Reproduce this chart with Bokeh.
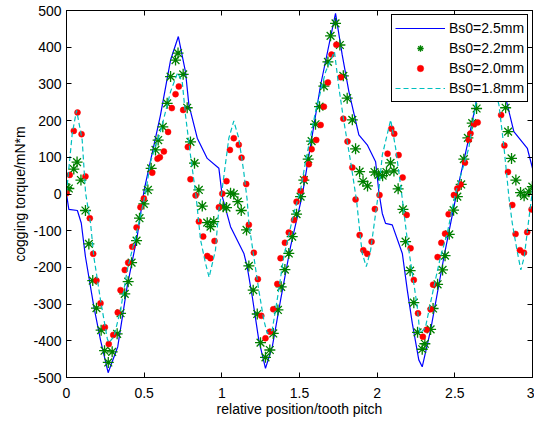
from bokeh.plotting import figure
from bokeh.models import LinearAxis, FixedTicker, Range1d
from bokeh.embed import file_html
from bokeh.resources import INLINE

# ---- data ----
x_ticks = [0, 0.5, 1, 1.5, 2, 2.5, 3]
x_tick_labels = ["0", "0.5", "1", "1.5", "2", "2.5", "3"]
y_ticks = [-500, -400, -300, -200, -100, 0, 100, 200, 300, 400, 500]
y_tick_labels = ["-500", "-400", "-300", "-200", "-100", "0", "100", "200", "300", "400", "500"]

series_names = ["Bs0=2.5mm", "Bs0=2.2mm", "Bs0=2.0mm", "Bs0=1.8mm"]

# Bs0=2.5mm (solid blue line)
b25_x = [0.0, 0.015, 0.07, 0.095, 0.122, 0.176, 0.219, 0.268, 0.33, 0.39, 0.455, 0.5, 0.605, 0.67, 0.72,
         0.766, 0.788, 0.842, 0.906, 0.981, 1.003, 1.056, 1.142, 1.163, 1.196, 1.238, 1.281, 1.325,
         1.378, 1.442, 1.518, 1.636, 1.732, 1.775, 1.818, 1.882, 1.936, 1.99, 2.011, 2.033, 2.054,
         2.097, 2.162, 2.194, 2.226, 2.268, 2.29, 2.344, 2.43, 2.516, 2.59, 2.634, 2.72, 2.838, 2.88,
         2.967, 3.0]
b25_y = [0, -42, -45, -79, -171, -307, -398, -487, -416, -253, -116, 11, 215, 365, 429,
         333, 243, 152, 97, 70, -7, -89, -162, -198, -280, -398, -475, -416,
         -289, -144, -3, 297, 492, 379, 279, 161, 134, 88, 6, -53, -80,
         -84, -162, -262, -352, -452, -471, -371, -171, 11, 152, 243, 460, 243, 170,
         124, 70]

# Bs0=2.2mm (green asterisks)
b22_x = [0.0, 0.015, 0.047, 0.068, 0.093, 0.122, 0.144, 0.169, 0.193, 0.223, 0.245, 0.269, 0.294,
         0.326, 0.348, 0.375, 0.397, 0.419, 0.451, 0.47, 0.498, 0.524, 0.545, 0.573, 0.59, 0.62,
         0.648, 0.67, 0.702, 0.718, 0.751, 0.777, 0.798, 0.824, 0.852, 0.874, 0.906, 0.927, 0.948,
         1.009, 1.03, 1.056, 1.077, 1.103, 1.125, 1.159, 1.174, 1.202, 1.228, 1.249, 1.281, 1.309,
         1.331, 1.361, 1.382, 1.406, 1.431, 1.453, 1.481, 1.507, 1.528, 1.556, 1.578, 1.603, 1.629,
         1.657, 1.683, 1.7, 1.732, 1.76, 1.782, 1.807, 1.84, 1.861, 1.887, 1.909, 1.938, 1.983,
         2.009, 2.035, 2.06, 2.086, 2.108, 2.135, 2.166, 2.183, 2.212, 2.236, 2.26, 2.29, 2.307,
         2.344, 2.36, 2.389, 2.421, 2.437, 2.464, 2.492, 2.516, 2.541, 2.558, 2.584, 2.612, 2.64,
         2.67, 2.70, 2.73, 2.76, 2.79, 2.827, 2.843, 2.865, 2.893, 2.923, 2.946, 2.977, 2.999]
b22_y = [17, 15, 68, 87, 38, -45, -136, -236, -311, -371, -427, -459, -430,
         -381, -325, -272, -239, -187, -127, -66, -27, 11, 70, 120, 147, 183,
         247, 320, 365, 384, 326, 235, 142, 84, 11, -33, -78, -89, -75,
         -35, -37, 2, 0, -21, -45, -98, -196, -262, -327, -405, -445, -425,
         -380, -316, -253, -206, -162, -116, -55, -7, 38, 95, 144, 190, 238,
         294, 360, 431, 465, 406, 322, 261, 202, 123, 61, 34, 22, 60,
         52, 50, 60, 85, 63, 14, -42, -130, -209, -296, -377, -423, -408,
         -369, -312, -246, -207, -168, -110, -44, -7, 26, 95, 153, 193, 233,
         300, 370, 420, 370, 300, 235, 170, 97, 38, 4, -5, 6, 20]

# Bs0=2.0mm (red dots)
b20_x = [0.0, 0.021, 0.047, 0.071, 0.097, 0.122, 0.15, 0.172, 0.193, 0.219, 0.247, 0.272, 0.301,
         0.33, 0.348, 0.375, 0.397, 0.423, 0.451, 0.476, 0.498, 0.552, 0.586, 0.601, 0.627, 0.654,
         0.678, 0.702, 0.723, 0.751, 0.781, 0.798, 0.831, 0.852, 0.88, 0.906, 0.927, 0.953, 0.981,
         1.003, 1.03, 1.052, 1.077, 1.109, 1.127, 1.157, 1.174, 1.206, 1.232, 1.254, 1.281, 1.309,
         1.331, 1.357, 1.378, 1.406, 1.431, 1.464, 1.481, 1.507, 1.533, 1.56, 1.578, 1.608, 1.636,
         1.657, 1.683, 1.706, 1.737, 1.766, 1.782, 1.809, 1.84, 1.861, 1.887, 1.911, 1.936, 1.964,
         1.985, 2.015, 2.067, 2.091, 2.11, 2.138, 2.164, 2.19, 2.215, 2.236, 2.263, 2.294, 2.318,
         2.344, 2.36, 2.389, 2.413, 2.437, 2.46, 2.494, 2.516, 2.537, 2.565, 2.59, 2.601, 2.623,
         2.647, 2.68, 2.71, 2.74, 2.77, 2.798, 2.819, 2.842, 2.87, 2.891, 2.919, 2.945, 2.966, 2.994]
b20_y = [2, 52, 172, 222, 163, 48, -66, -163, -236, -298, -363, -409, -384,
         -323, -262, -207, -187, -144, -91, -36, -12, 58, 96, 100, 116, 169,
         234, 272, 293, 229, 128, 40, -4, -75, -116, -169, -175, -128, -36,
         1, 35, 120, 152, 134, 99, 27, -84, -160, -232, -332, -393, -375,
         -314, -245, -175, -133, -105, -71, -21, 8, 41, 81, 122, 147, 188,
         238, 304, 380, 407, 318, 205, 143, 72, -15, -112, -153, -163, -130,
         -41, -3, 110, 178, 164, 106, 45, -57, -148, -234, -325, -389, -370,
         -314, -247, -172, -133, -108, -55, -3, 15, 26, 85, 147, 165, 190,
         195, 265, 320, 330, 290, 215, 132, 60, -30, -109, -153, -160, -104, -42]

# Bs0=1.8mm (cyan dashed line)
b18_x = [0.0, 0.037, 0.065, 0.101, 0.123, 0.155, 0.176, 0.219, 0.263, 0.273, 0.305, 0.348, 0.391,
         0.455, 0.509, 0.541, 0.605, 0.67, 0.715, 0.745, 0.766, 0.798, 0.835, 0.863, 0.895, 0.918,
         0.959, 0.98, 0.998, 1.045, 1.077, 1.109, 1.141, 1.163, 1.174, 1.206, 1.238, 1.27, 1.292,
         1.324, 1.356, 1.399, 1.463, 1.507, 1.539, 1.603, 1.668, 1.725, 1.754, 1.786, 1.829, 1.868,
         1.89, 1.904, 1.93, 1.958, 1.99, 2.011, 2.033, 2.087, 2.119, 2.155, 2.194, 2.226, 2.258,
         2.275, 2.31, 2.365, 2.408, 2.451, 2.504, 2.59, 2.634, 2.71, 2.784, 2.817, 2.849, 2.87,
         2.9, 2.925, 2.947, 2.973, 3.0]
b18_y = [3, 165, 228, 147, 2, -80, -171, -289, -395, -405, -389, -316, -207,
         -98, 2, 88, 170, 279, 330, 306, 215, 106, -10, -125, -189, -227,
         -153, -44, 0, 152, 199, 152, 61, -16, -80, -171, -262, -343, -380,
         -371, -289, -171, -53, 11, 88, 224, 333, 388, 288, 197, 88, -20,
         -110, -162, -198, -153, -53, 11, 106, 202, 125, 10, -125, -216, -307,
         -380, -365, -253, -171, -107, 2, 125, 243, 360, 243, 125, -12, -80,
         -153, -207, -171, -80, 11]

FONT = "Liberation Sans"
FS = "14px"

p = figure(width=534, height=421, output_backend="svg", toolbar_location=None,
           x_range=Range1d(0, 3), y_range=Range1d(-500, 500),
           min_border_left=66, min_border_right=2, min_border_top=10, min_border_bottom=44,
           x_axis_label="relative position/tooth pitch",
           y_axis_label="cogging torque/mN*m")
p.background_fill_color = "white"
p.border_fill_color = "white"
p.outline_line_color = "black"
p.outline_line_width = 1
p.xgrid.visible = False
p.ygrid.visible = False

for ax in (p.xaxis[0], p.yaxis[0]):
    ax.major_tick_in = 5
    ax.major_tick_out = 0
    ax.minor_tick_in = 0
    ax.minor_tick_out = 0
    ax.axis_line_color = "black"
    ax.major_tick_line_color = "black"
    ax.major_label_text_font = FONT
    ax.major_label_text_font_size = FS
    ax.major_label_text_color = "black"
    ax.axis_label_text_font = FONT
    ax.axis_label_text_font_size = FS
    ax.axis_label_text_font_style = "normal"
    ax.axis_label_text_color = "black"

p.xaxis[0].ticker = FixedTicker(ticks=x_ticks)
p.xaxis[0].major_label_overrides = {t: s for t, s in zip(x_ticks, x_tick_labels)}
p.xaxis[0].major_label_standoff = 10
p.xaxis[0].axis_label_standoff = 0
p.yaxis[0].ticker = FixedTicker(ticks=y_ticks)
p.yaxis[0].major_label_overrides = {t: s for t, s in zip(y_ticks, y_tick_labels)}
p.yaxis[0].major_label_standoff = 5
p.yaxis[0].axis_label_standoff = 2

top_axis = LinearAxis(ticker=FixedTicker(ticks=x_ticks), major_label_text_color=None,
                      major_tick_in=5, major_tick_out=0, minor_tick_in=0, minor_tick_out=0,
                      major_label_standoff=0, axis_line_color="black", major_tick_line_color="black")
right_axis = LinearAxis(ticker=FixedTicker(ticks=y_ticks), major_label_text_color=None,
                        major_tick_in=5, major_tick_out=0, minor_tick_in=0, minor_tick_out=0,
                        major_label_standoff=0, axis_line_color="black", major_tick_line_color="black")
p.add_layout(top_axis, "above")
p.add_layout(right_axis, "right")

p.line(b25_x, b25_y, line_color="#0000FF", line_width=1.2, legend_label=series_names[0])
p.scatter(b22_x, b22_y, marker="asterisk", size=11, line_color="#008000", line_width=1.3,
          legend_label=series_names[1])
p.scatter(b20_x, b20_y, marker="circle", size=6, fill_color="#FF0000", line_color="#FF0000",
          line_width=0.5, legend_label=series_names[2])
p.line(b18_x, b18_y, line_color="#00BFBF", line_width=1.2, line_dash="5 3",
       legend_label=series_names[3])

lg = p.legend[0]
lg.location = (325, 275)
lg.border_line_color = "black"
lg.border_line_width = 1
lg.border_line_alpha = 1
lg.background_fill_color = "white"
lg.background_fill_alpha = 1
lg.padding = 3
lg.spacing = 0
lg.margin = 0
lg.label_height = 20
lg.glyph_height = 16
lg.glyph_width = 50
lg.label_standoff = 4
lg.label_text_font = FONT
lg.label_text_font_size = FS
lg.label_text_color = "black"

open("out.html", "w").write(file_html(p, INLINE))
